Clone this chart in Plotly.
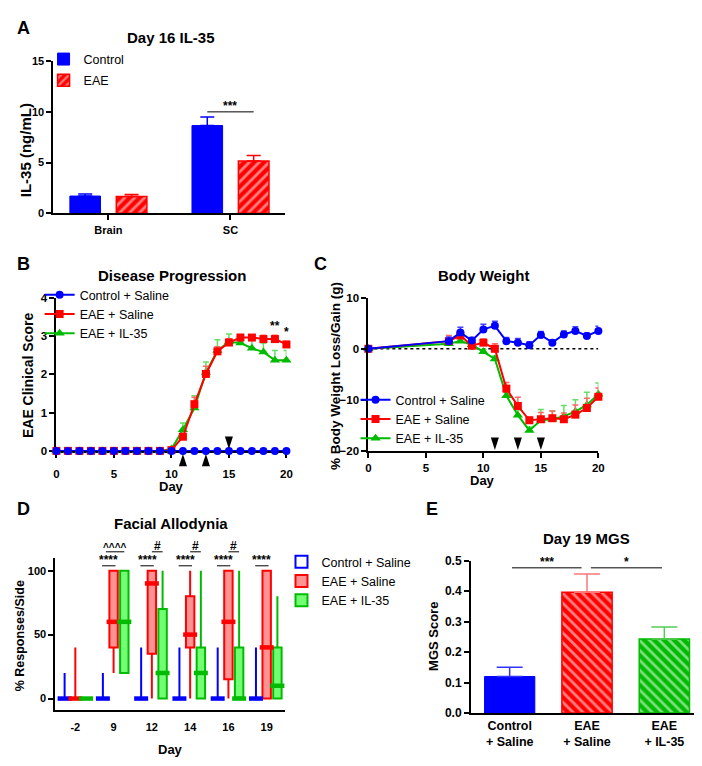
import plotly.graph_objects as go

FONT = "Liberation Sans, Arial, Helvetica, sans-serif"
BLUE = "#0000FF"
RED = "#FF0000"
GREEN = "#00BB00"
W, H = 702, 766

# ---------------- Panel A: Day 16 IL-35 ----------------
a_regions = ["Brain", "SC"]
a_control = [1.7, 8.65]
a_control_err = [0.2, 0.85]
a_eae = [1.65, 5.15]
a_eae_err = [0.2, 0.55]

# ---------------- Panel B: Disease progression ----------------
b_days = [0, 1, 2, 3, 4, 5, 6, 7, 8, 9, 10, 11, 12, 13, 14, 15, 16, 17, 18, 19, 20]
b_control = [0, 0, 0, 0, 0, 0, 0, 0, 0, 0, 0, 0, 0, 0, 0, 0, 0, 0, 0, 0, 0]
b_eae_saline = [0, 0, 0, 0, 0, 0, 0, 0, 0, 0, 0.02, 0.37, 1.22, 2.01, 2.60, 2.83, 2.96, 2.96, 2.92, 2.92, 2.78]
b_eae_saline_err = [0, 0, 0, 0, 0, 0, 0, 0, 0, 0, 0.02, 0.08, 0.18, 0.20, 0.12, 0.10, 0.08, 0.07, 0.10, 0.10, 0.08]
b_eae_il35 = [0, 0, 0, 0, 0, 0, 0, 0, 0, 0, 0.05, 0.55, 1.12, 2.05, 2.62, 2.85, 2.82, 2.68, 2.58, 2.37, 2.37]
b_eae_il35_err = [0, 0, 0, 0, 0, 0, 0, 0, 0, 0, 0.03, 0.18, 0.32, 0.27, 0.28, 0.20, 0.17, 0.22, 0.24, 0.25, 0.25]
b_inj_up = [11, 13]
b_inj_down = [15]

# ---------------- Panel C: Body weight ----------------
c_days = [0, 7, 8, 9, 10, 11, 12, 13, 14, 15, 16, 17, 18, 19, 20]
c_control = [0, 1.5, 3.2, 1.6, 3.8, 4.5, 1.5, 1.2, 0.7, 2.7, 1.2, 2.8, 3.5, 2.5, 3.5]
c_control_err = [0, 0.8, 1.0, 0.6, 1.0, 0.9, 0.7, 0.8, 0.7, 0.7, 0.5, 0.7, 0.8, 0.6, 0.9]
c_eae_saline = [0, 1.5, 2.6, 0.6, 1.2, 0.0, -7.8, -11.2, -14.0, -13.8, -13.6, -13.8, -12.9, -11.6, -9.4]
c_eae_saline_err = [0, 1.1, 0.7, 0.5, 0.7, 1.0, 1.2, 1.7, 0.6, 1.3, 1.4, 1.2, 1.9, 1.9, 1.7]
c_eae_il35 = [0, 1.0, 1.5, 0.8, -0.6, -2.0, -9.2, -13.0, -16.0, -14.0, -13.8, -13.2, -12.3, -11.0, -8.9]
c_eae_il35_err = [0, 0.5, 0.5, 0.5, 0.5, 0.6, 0.8, 1.0, 0.7, 2.1, 1.6, 2.1, 2.3, 2.5, 2.2]
c_inj = [11, 13, 15]

# ---------------- Panel D: Facial allodynia (box summaries) ----------------
d_days = ["-2", "9", "12", "14", "16", "19"]
d_ctrl_low = [0, 0, 0, 0, 0, 0]
d_ctrl_q1 = [0, 0, 0, 0, 0, 0]
d_ctrl_med = [0, 0, 0, 0, 0, 0]
d_ctrl_q3 = [0, 0, 0, 0, 0, 0]
d_ctrl_high = [20, 20, 40, 40, 40, 40]
d_sal_low = [0, 20, 0, 0, 0, 0]
d_sal_q1 = [0, 40, 35, 40, 15, 0]
d_sal_med = [0, 60, 90, 50, 60, 40]
d_sal_q3 = [0, 100, 100, 80, 100, 100]
d_sal_high = [40, 100, 100, 100, 100, 100]
d_il_low = [0, 20, 0, 0, 0, 0]
d_il_q1 = [0, 20, 0, 0, 0, 0]
d_il_med = [0, 60, 20, 20, 0, 10]
d_il_q3 = [0, 100, 70, 40, 40, 40]
d_il_high = [0, 100, 100, 100, 100, 80]

# ---------------- Panel E: Day 19 MGS ----------------
e_groups = ["Control<br>+ Saline", "EAE<br>+ Saline", "EAE<br>+ IL-35"]
e_values = [0.12, 0.397, 0.243]
e_err = [0.03, 0.06, 0.04]

# style constants
D_OFFSETS = [-0.28, 0.0, 0.28]


def px_x(p):
    return p / W


def px_y(p):
    return 1 - p / H


def axis(domain, tsize=11, **kw):
    d = dict(domain=domain, showline=True, linecolor="black", linewidth=2,
             ticks="outside", ticklen=5, tickwidth=2, tickcolor="black",
             showgrid=False, zeroline=False, mirror=False,
             tickfont=dict(family=FONT, size=tsize, color="black", weight="bold"))
    d.update(kw)
    return d


fig = go.Figure()

# ---- A bars
fig.add_trace(go.Bar(
    x=a_regions, y=a_control, name="Control", marker=dict(color=BLUE, line=dict(color=BLUE, width=1)),
    error_y=dict(type="data", array=a_control_err, arrayminus=[0, 0], symmetric=False,
                 color=BLUE, thickness=1.5, width=7),
    xaxis="x", yaxis="y", legend="legend", legendgroup="ac"))
fig.add_trace(go.Bar(
    x=a_regions, y=a_eae, name="EAE",
    marker=dict(color=RED, line=dict(color=RED, width=1.5),
                pattern=dict(shape="/", fgcolor="white", bgcolor=RED, size=7, solidity=0.4)),
    error_y=dict(type="data", array=a_eae_err, arrayminus=[0, 0], symmetric=False,
                 color=RED, thickness=1.5, width=7),
    xaxis="x", yaxis="y", legend="legend", legendgroup="ae"))

# ---- B lines
zeros_b = [0 for _ in b_days]
fig.add_trace(go.Scatter(
    x=b_days, y=b_eae_il35, name="EAE + IL-35", mode="lines+markers",
    line=dict(color=GREEN, width=2), marker=dict(symbol="triangle-up", size=9, color=GREEN),
    error_y=dict(type="data", array=b_eae_il35_err, arrayminus=zeros_b, symmetric=False,
                 color="#66DD66", thickness=1.5, width=3),
    cliponaxis=False, xaxis="x2", yaxis="y2", legend="legend2", legendrank=3))
fig.add_trace(go.Scatter(
    x=b_days, y=b_eae_saline, name="EAE + Saline", mode="lines+markers",
    line=dict(color=RED, width=2), marker=dict(symbol="square", size=8, color=RED),
    error_y=dict(type="data", array=b_eae_saline_err, arrayminus=zeros_b, symmetric=False,
                 color="#FF6666", thickness=1.5, width=3),
    cliponaxis=False, xaxis="x2", yaxis="y2", legend="legend2", legendrank=2))
fig.add_trace(go.Scatter(
    x=b_days, y=b_control, name="Control + Saline", mode="lines+markers",
    line=dict(color=BLUE, width=2), marker=dict(symbol="circle", size=8, color=BLUE),
    cliponaxis=False, xaxis="x2", yaxis="y2", legend="legend2", legendrank=1))
# injection arrowheads (tip placed at the axis, offset a few px by standoff)
fig.add_trace(go.Scatter(
    x=b_inj_up, y=[0 for _ in b_inj_up], mode="markers",
    marker=dict(symbol="arrow", size=13, color="black", angle=0, standoff=3),
    cliponaxis=False, showlegend=False, hoverinfo="skip", xaxis="x2", yaxis="y2"))
fig.add_trace(go.Scatter(
    x=b_inj_down, y=[0 for _ in b_inj_down], mode="markers",
    marker=dict(symbol="arrow", size=13, color="black", angle=180, standoff=2),
    cliponaxis=False, showlegend=False, hoverinfo="skip", xaxis="x2", yaxis="y2"))

# ---- C lines
zeros_c = [0 for _ in c_days]
fig.add_trace(go.Scatter(
    x=c_days, y=c_eae_il35, name="EAE + IL-35", mode="lines+markers",
    line=dict(color=GREEN, width=2), marker=dict(symbol="triangle-up", size=9, color=GREEN),
    error_y=dict(type="data", array=c_eae_il35_err, arrayminus=zeros_c, symmetric=False,
                 color="#66DD66", thickness=1.5, width=3),
    cliponaxis=False, xaxis="x3", yaxis="y3", legend="legend3", legendrank=3))
fig.add_trace(go.Scatter(
    x=c_days, y=c_eae_saline, name="EAE + Saline", mode="lines+markers",
    line=dict(color=RED, width=2), marker=dict(symbol="square", size=8, color=RED),
    error_y=dict(type="data", array=c_eae_saline_err, arrayminus=zeros_c, symmetric=False,
                 color="#FF6666", thickness=1.5, width=3),
    cliponaxis=False, xaxis="x3", yaxis="y3", legend="legend3", legendrank=2))
fig.add_trace(go.Scatter(
    x=c_days, y=c_control, name="Control + Saline", mode="lines+markers",
    line=dict(color=BLUE, width=2), marker=dict(symbol="circle", size=8, color=BLUE),
    error_y=dict(type="data", array=c_control_err, arrayminus=zeros_c, symmetric=False,
                 color="#4444FF", thickness=1.5, width=3),
    cliponaxis=False, xaxis="x3", yaxis="y3", legend="legend3", legendrank=1))
fig.add_trace(go.Scatter(
    x=c_inj, y=[-20 for _ in c_inj], mode="markers",
    marker=dict(symbol="arrow", size=13, color="black", angle=180, standoff=1),
    cliponaxis=False, showlegend=False, hoverinfo="skip", xaxis="x3", yaxis="y3"))

# ---- D boxes
d_idx = list(range(len(d_days)))
box_sets = [
    ("Control + Saline", BLUE, "rgba(255,255,255,1)", d_ctrl_low, d_ctrl_q1, d_ctrl_med, d_ctrl_q3, d_ctrl_high),
    ("EAE + Saline", RED, "rgba(255,110,110,0.75)", d_sal_low, d_sal_q1, d_sal_med, d_sal_q3, d_sal_high),
    ("EAE + IL-35", GREEN, "rgba(90,255,90,0.85)", d_il_low, d_il_q1, d_il_med, d_il_q3, d_il_high),
]
for k, (name, col, fill, lo, q1, med, q3, hi) in enumerate(box_sets):
    xs = [i + D_OFFSETS[k] for i in d_idx]
    fig.add_trace(go.Box(
        x=xs, q1=q1, median=med, q3=q3, lowerfence=lo, upperfence=hi,
        name=name, width=0.22, whiskerwidth=0, boxpoints=False,
        line=dict(color=col, width=2), fillcolor=fill,
        xaxis="x4", yaxis="y4", legend="legend4"))
    fig.add_trace(go.Scatter(
        x=xs, y=med, mode="markers", showlegend=False, hoverinfo="skip",
        marker=dict(symbol="line-ew", size=10, line=dict(color=col, width=4.5)),
        cliponaxis=False, xaxis="x4", yaxis="y4"))

# ---- E bars
e_styles = [
    dict(color=BLUE, line=dict(color=BLUE, width=1)),
    dict(color=RED, line=dict(color=RED, width=1.5),
         pattern=dict(shape="\\", fgcolor="white", bgcolor=RED, size=7, solidity=0.4)),
    dict(color=GREEN, line=dict(color=GREEN, width=1.5),
         pattern=dict(shape="\\", fgcolor="white", bgcolor=GREEN, size=7, solidity=0.4)),
]
e_err_colors = ["#3333FF", "#FF7777", "#55CC55"]
for k in range(3):
    fig.add_trace(go.Bar(
        x=[e_groups[k]], y=[e_values[k]], width=0.65, offsetgroup="e",
        marker=e_styles[k], showlegend=False,
        error_y=dict(type="data", array=[e_err[k]], arrayminus=[0], symmetric=False,
                     color=e_err_colors[k], thickness=1.5, width=13),
        xaxis="x5", yaxis="y5"))

# ---------------- layout ----------------
LEG_FONT = dict(family=FONT, size=12.5, color="black")
fig.update_layout(
    width=W, height=H, margin=dict(l=0, r=0, t=0, b=0),
    paper_bgcolor="white", plot_bgcolor="white",
    font=dict(family=FONT, color="black"),
    barmode="group", bargap=0.24, bargroupgap=0.34, boxmode="overlay",
    xaxis=axis([px_x(43), px_x(278)], type="category", range=[-0.45, 1.45]),
    yaxis=axis([px_y(202), px_y(47)], range=[0, 15], tickvals=[0, 5, 10, 15]),
    xaxis2=axis([px_x(46), px_x(279)], 11.5, range=[0, 20], tickvals=[0, 5, 10, 15, 20], anchor="y2",
                layer="below traces", ticklabelstandoff=6),
    yaxis2=axis([px_y(444), px_y(288)], 11.5, range=[0, 4], tickvals=[0, 1, 2, 3, 4], anchor="x2",
                layer="below traces"),
    xaxis3=axis([px_x(362), px_x(595)], 11.5, range=[0, 20], tickvals=[0, 5, 10, 15, 20], anchor="y3"),
    yaxis3=axis([px_y(444), px_y(288)], 11.5, range=[-20, 10], tickvals=[-20, -10, 0, 10], anchor="x3"),
    xaxis4=axis([px_x(45), px_x(278)], range=[-0.52, 5.49], tickvals=d_idx, ticktext=d_days, ticks="",
                anchor="y4", ticklabelstandoff=6),
    yaxis4=axis([px_y(708), px_y(553)], range=[-9, 110], tickvals=[0, 50, 100], anchor="x4"),
    xaxis5=axis([px_x(466), px_x(701)], 12.5, type="category", range=[-0.5, 2.5], ticks="", anchor="y5"),
    yaxis5=axis([px_y(711), px_y(556)], 12, range=[0, 0.5], tickvals=[0, 0.1, 0.2, 0.3, 0.4, 0.5],
                tickformat=".1f", anchor="x5"),
    legend=dict(x=px_x(33), y=px_y(30), xanchor="left", yanchor="top", bgcolor="rgba(0,0,0,0)",
                font=LEG_FONT, tracegroupgap=2),
    legend2=dict(x=px_x(29), y=px_y(270), xanchor="left", yanchor="top", bgcolor="rgba(0,0,0,0)",
                 font=LEG_FONT),
    legend3=dict(x=px_x(349), y=px_y(377), xanchor="left", yanchor="top", bgcolor="rgba(0,0,0,0)",
                 font=LEG_FONT),
    legend4=dict(x=px_x(274), y=px_y(542), xanchor="left", yanchor="top", bgcolor="rgba(0,0,0,0)",
                 font=LEG_FONT),
)

ann = []


def paper_text(text, x, y, size, bold=True, angle=0):
    ann.append(dict(text=text, x=px_x(x), y=px_y(y), xref="paper", yref="paper",
                    xanchor="center", yanchor="middle", showarrow=False, textangle=angle,
                    font=dict(family=FONT, size=size, color="black", weight="bold" if bold else "normal")))


# panel letters
for letter, lx, ly in [("A", 13, 13), ("B", 13, 254), ("C", 314, 254), ("D", 13, 503), ("E", 426, 503)]:
    paper_text(letter, lx, ly, 18)
# panel titles
paper_text("Day 16 IL-35", 162, 23, 15)
paper_text("Disease Progression", 163, 265, 15)
paper_text("Body Weight", 479, 265, 15)
paper_text("Facial Allodynia", 162, 518, 15)
paper_text("Day 19 MGS", 583, 533, 15)
# axis titles
paper_text("IL-35 (ng/mL)", 15, 138, 15, angle=-90)
paper_text("EAE Clinical Score", 18, 367, 14, angle=-90)
paper_text("% Body Weight Loss/Gain (g)", 328, 368, 13.5, angle=-90)
paper_text("% Responses/Side", 10, 632, 12.5, angle=-90)
paper_text("MGS Score", 428, 633, 13, angle=-90)
paper_text("Day", 163, 480, 13)
paper_text("Day", 478, 474, 13)
paper_text("Day", 162, 748, 13)

shapes = []


def sig(xref, yref, x0, x1, y, label, size=12):
    shapes.append(dict(type="line", xref=xref, yref=yref, x0=x0, x1=x1, y0=y, y1=y,
                       line=dict(color="black", width=1)))
    ann.append(dict(text=label, x=(x0 + x1) / 2, y=y, xref=xref, yref=yref,
                    xanchor="center", yanchor="bottom", showarrow=False, yshift=-3,
                    font=dict(family=FONT, size=size, color="black", weight="bold")))


# A
sig("x", "y", 1 - 0.19, 1 + 0.19, 10, "***")
# B
ann.append(dict(text="**", x=19, y=3.02, xref="x2", yref="y2", showarrow=False, yanchor="bottom",
                font=dict(family=FONT, size=12, weight="bold")))
ann.append(dict(text="*", x=20, y=2.88, xref="x2", yref="y2", showarrow=False, yanchor="bottom",
                font=dict(family=FONT, size=12, weight="bold")))
# D
for i in [1, 2, 3, 4, 5]:
    sig("x4", "y4 domain", i - 0.3, i + 0.05, 0.948, "****")
sig("x4", "y4 domain", 1 - 0.2, 1 + 0.28, 1.04, "^^^^", size=10)
for i in [2, 3, 4]:
    sig("x4", "y4 domain", i + 0.0, i + 0.28, 1.04, "#")
# E
sig("x5", "y5", 0.03, 0.93, 0.477, "***")
sig("x5", "y5", 1.05, 1.97, 0.477, "*")

# C dotted zero line
shapes.append(dict(type="line", xref="x3", yref="y3", x0=0, x1=20, y0=0, y1=0,
                   line=dict(color="black", width=1.5, dash="dot"), layer="below"))

fig.update_layout(annotations=ann, shapes=shapes)
fig.write_html("out.html")
